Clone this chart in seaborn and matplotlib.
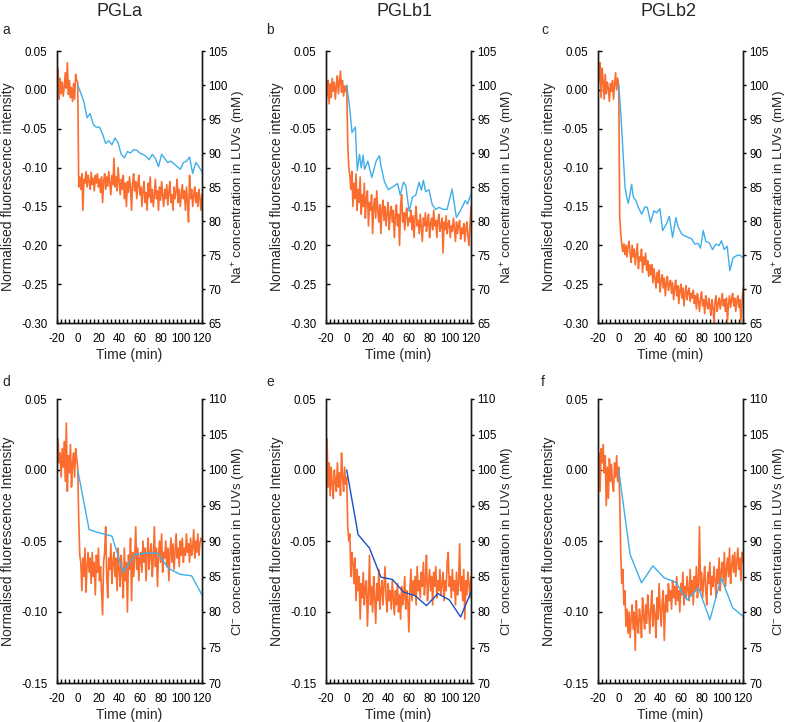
import numpy as np
import matplotlib
matplotlib.use("Agg")
import matplotlib.pyplot as plt
from matplotlib.ticker import MultipleLocator, FormatStrFormatter
import seaborn as sns

sns.set_theme(style="ticks")
plt.rcParams['font.family'] = ['Liberation Sans', 'DejaVu Sans']
plt.rcParams['axes.unicode_minus'] = False
plt.rcParams['mathtext.fontset'] = 'custom'
plt.rcParams['mathtext.rm'] = 'Liberation Sans'

# fluorescence traces, one sample per minute from -20 to 120 min
time_min = np.arange(-20, 121)

fl_pgla_na = [
    0.000, 0.028, -0.012, 0.015, -0.005, 0.010, -0.008, 0.004, 0.022, 0.002,
    0.035, -0.006, 0.012, -0.010, 0.003, -0.015, 0.008, -0.012, 0.020, 0.012,
    0.010,
    -0.125, -0.112, -0.128, -0.108, -0.155, -0.115, -0.120, -0.105, -0.125, -0.110,
    -0.118, -0.128, -0.106, -0.122, -0.114, -0.130, -0.110, -0.120, -0.108, -0.125,
    -0.115, -0.132, -0.112, -0.145, -0.118, -0.108, -0.128, -0.112, -0.124, -0.105,
    -0.120, -0.135, -0.110, -0.122, -0.088, -0.125, -0.112, -0.130, -0.100, -0.118,
    -0.135, -0.115, -0.128, -0.110, -0.140,
    -0.120, -0.150, -0.118, -0.132, -0.112, -0.125, -0.155, -0.120, -0.108, -0.130,
    -0.118, -0.140, -0.122, -0.110, -0.135,
    -0.125, -0.150, -0.130, -0.118, -0.145, -0.132, -0.155, -0.120, -0.138, -0.112,
    -0.145, -0.128, -0.150, -0.135, -0.115, -0.140, -0.130, -0.155, -0.125, -0.142,
    -0.118, -0.135, -0.150, -0.128, -0.140, -0.122, -0.148, -0.132, -0.118, -0.145,
    -0.135, -0.155, -0.125, -0.140, -0.130, -0.115, -0.145, -0.128, -0.150, -0.135,
    -0.122, -0.140, -0.130, -0.155, -0.125, -0.145, -0.170, -0.110, -0.140, -0.128,
    -0.150, -0.135, -0.125, -0.145, -0.132, -0.150, -0.128, -0.140, -0.155, -0.135,
]

fl_pglb1_na = [
    -0.015, -0.005, 0.012, -0.018, 0.008, -0.010, 0.015, -0.002, 0.010, -0.012,
    0.005, 0.018, -0.005, 0.010, 0.024, -0.003, 0.012, -0.008, 0.005, -0.002,
    0.005,
    -0.070, -0.100, -0.110, -0.128, -0.105, -0.150, -0.120, -0.140, -0.108, -0.155,
    -0.128, -0.145, -0.112, -0.160, -0.135, -0.150, -0.120, -0.165, -0.140, -0.130,
    -0.175, -0.145, -0.155, -0.135, -0.185, -0.150, -0.140, -0.165, -0.130, -0.155,
    -0.170, -0.148, -0.185, -0.155, -0.142, -0.168, -0.150, -0.175, -0.158, -0.145,
    -0.180, -0.160, -0.150, -0.170, -0.155, -0.190, -0.162, -0.148, -0.175, -0.160,
    -0.200, -0.150, -0.135, -0.170, -0.158, -0.180, -0.160, -0.152, -0.175, -0.165,
    -0.170, -0.155, -0.180, -0.162, -0.190, -0.165, -0.150, -0.175, -0.168, -0.185,
    -0.160, -0.178, -0.195, -0.165, -0.175, -0.158, -0.182, -0.170, -0.160, -0.190,
    -0.172, -0.165, -0.180, -0.155, -0.175, -0.168, -0.190, -0.170, -0.160, -0.182,
    -0.175, -0.165, -0.210, -0.170, -0.180, -0.162, -0.185, -0.172, -0.168, -0.190,
    -0.175, -0.182, -0.165, -0.178, -0.195, -0.170, -0.185, -0.175, -0.168, -0.192,
    -0.178, -0.185, -0.172, -0.195, -0.180, -0.170, -0.188, -0.200, -0.175, -0.150,
]

fl_pglb2_na = [
    0.005, 0.015, 0.035, -0.010, 0.028, 0.010, -0.012, 0.020, -0.005, 0.010,
    0.002, -0.015, 0.008, -0.002, 0.012, -0.012, 0.006, 0.022, 0.000, 0.015,
    0.005,
    -0.165, -0.185, -0.200, -0.208, -0.198, -0.212, -0.200, -0.215, -0.202, -0.195,
    -0.210, -0.222, -0.200, -0.215, -0.205, -0.225, -0.212, -0.198, -0.230, -0.215,
    -0.220, -0.205, -0.235, -0.215, -0.225, -0.210, -0.232, -0.220, -0.240, -0.225,
    -0.238, -0.225, -0.248, -0.230, -0.242, -0.255, -0.235, -0.248, -0.232, -0.260,
    -0.245, -0.238, -0.255, -0.242, -0.265, -0.248, -0.240, -0.258, -0.250, -0.245,
    -0.262, -0.248, -0.270, -0.255, -0.245, -0.265, -0.252, -0.275, -0.258, -0.250,
    -0.268, -0.255, -0.278, -0.262, -0.252, -0.270, -0.260, -0.255, -0.272, -0.262,
    -0.268, -0.258, -0.275, -0.265, -0.282, -0.262, -0.272, -0.285, -0.268, -0.260,
    -0.278, -0.270, -0.288, -0.265, -0.275, -0.282, -0.268, -0.278, -0.290, -0.270,
    -0.280, -0.300, -0.272, -0.265, -0.285, -0.275, -0.268, -0.282, -0.272, -0.262,
    -0.278, -0.270, -0.285, -0.268, -0.298, -0.275, -0.265, -0.280, -0.270, -0.262,
    -0.278, -0.268, -0.285, -0.272, -0.265, -0.280, -0.270, -0.298, -0.275, -0.255,
]

fl_pgla_cl = [
    0.000, 0.022, 0.005, 0.012, -0.005, 0.015, 0.002, 0.020, -0.008, 0.033,
    -0.015, 0.010, -0.002, 0.018, -0.012, 0.005, 0.012, -0.005, 0.015, 0.008,
    0.002,
    -0.035, -0.060, -0.065, -0.085, -0.062, -0.075, -0.055, -0.086, -0.068, -0.058,
    -0.072, -0.062, -0.080, -0.058, -0.075, -0.065, -0.088, -0.060, -0.072, -0.055,
    -0.078, -0.068, -0.085, -0.102, -0.065, -0.058, -0.040, -0.075, -0.090, -0.062,
    -0.070, -0.052, -0.080, -0.065, -0.058, -0.075, -0.062, -0.085, -0.055, -0.070,
    -0.082, -0.060, -0.072, -0.090, -0.055, -0.078, -0.065, -0.100, -0.060, -0.070,
    -0.048, -0.092, -0.058, -0.075, -0.062, -0.040, -0.070, -0.055, -0.078, -0.062,
    -0.058, -0.072, -0.050, -0.065, -0.055, -0.078, -0.060, -0.048, -0.070, -0.058,
    -0.052, -0.075, -0.062, -0.040, -0.068, -0.055, -0.082, -0.060, -0.050, -0.065,
    -0.045, -0.072, -0.058, -0.062, -0.050, -0.068, -0.055, -0.078, -0.060, -0.048,
    -0.065, -0.052, -0.070, -0.058, -0.045, -0.062, -0.055, -0.068, -0.050, -0.060,
    -0.048, -0.065, -0.055, -0.060, -0.045, -0.058, -0.052, -0.065, -0.048, -0.060,
    -0.055, -0.042, -0.062, -0.050, -0.058, -0.045, -0.060, -0.052, -0.048, -0.050,
]

fl_pglb1_cl = [
    -0.028, 0.022, -0.012, 0.005, -0.018, 0.002, -0.010, -0.020, 0.000, -0.008,
    -0.015, 0.005, -0.012, -0.002, -0.018, 0.012, -0.005, -0.015, 0.002, -0.010,
    -0.005,
    -0.040, -0.050, -0.045, -0.075, -0.058, -0.065, -0.080, -0.062, -0.092, -0.070,
    -0.085, -0.075, -0.105, -0.080, -0.090, -0.072, -0.095, -0.082, -0.078, -0.110,
    -0.088, -0.060, -0.095, -0.082, -0.100, -0.075, -0.090, -0.108, -0.080, -0.092,
    -0.070, -0.098, -0.085, -0.078, -0.095, -0.082, -0.068, -0.090, -0.100, -0.080,
    -0.092, -0.085, -0.098, -0.078, -0.090, -0.102, -0.085, -0.095, -0.080, -0.100,
    -0.088, -0.105, -0.082, -0.095, -0.090, -0.075, -0.098, -0.085, -0.092, -0.114,
    -0.085, -0.070, -0.092, -0.078, -0.088, -0.075, -0.095, -0.068, -0.085, -0.078,
    -0.090, -0.072, -0.082, -0.065, -0.088, -0.078, -0.060, -0.092, -0.080, -0.070,
    -0.085, -0.075, -0.095, -0.072, -0.082, -0.068, -0.090, -0.078, -0.085, -0.070,
    -0.088, -0.080, -0.072, -0.092, -0.078, -0.085, -0.065, -0.058, -0.082, -0.075,
    -0.090, -0.070, -0.085, -0.078, -0.095, -0.072, -0.088, -0.080, -0.052, -0.085,
    -0.075, -0.092, -0.070, -0.105, -0.078, -0.088, -0.072, -0.080, -0.090, -0.075,
]

fl_pglb2_cl = [
    -0.005, 0.012, -0.015, 0.015, 0.005, 0.018, -0.002, 0.010, -0.025, 0.002,
    -0.020, 0.008, -0.008, 0.004, -0.010, -0.015, 0.005, -0.005, 0.010, -0.008,
    0.002,
    -0.020, -0.060, -0.080, -0.070, -0.095, -0.085, -0.110, -0.098, -0.115, -0.100,
    -0.118, -0.105, -0.095, -0.112, -0.100, -0.127, -0.092, -0.108, -0.115, -0.098,
    -0.105, -0.118, -0.090, -0.102, -0.112, -0.095, -0.108, -0.088, -0.100, -0.115,
    -0.098, -0.085, -0.110, -0.095, -0.102, -0.118, -0.090, -0.105, -0.080, -0.098,
    -0.110, -0.092, -0.085, -0.120, -0.095, -0.088, -0.100, -0.080, -0.092, -0.085,
    -0.098, -0.078, -0.090, -0.082, -0.095, -0.075, -0.092, -0.085, -0.100, -0.080,
    -0.088, -0.072, -0.095, -0.082, -0.090, -0.075, -0.085, -0.092, -0.070, -0.088,
    -0.078, -0.095, -0.075, -0.085, -0.068, -0.090, -0.080, -0.040, -0.085, -0.072,
    -0.090, -0.078, -0.068, -0.085, -0.095, -0.072, -0.080, -0.065, -0.088, -0.075,
    -0.082, -0.068, -0.078, -0.090, -0.070, -0.080, -0.062, -0.085, -0.072, -0.065,
    -0.078, -0.058, -0.082, -0.070, -0.062, -0.075, -0.055, -0.080, -0.068, -0.060,
    -0.072, -0.058, -0.075, -0.065, -0.055, -0.070, -0.062, -0.078, -0.058, -0.065,
]

# Na+ concentration in LUVs (mM)
na_time_a = list(range(0, 121, 3))
na_pgla = [100, 98.8, 97.5, 95.2, 95.8, 94.2, 93.8, 93.8, 92.8, 91.4,
           91.8, 91.2, 92.2, 91.5, 89.8, 89.3, 90.2, 90.0, 90.5, 90.4,
           90.0, 89.8, 89.5, 89.0, 89.8, 89.2, 88.0, 89.8, 89.2, 88.6,
           88.8, 88.4, 88.0, 87.6, 88.6, 88.8, 89.4, 87.0, 88.6, 88.0, 87.2]

na_time_b = [0, 2.9, 5.1, 7, 8.3, 10.2, 12.4, 14, 15.9, 17.2, 20.4, 24.2, 28.4,
             31.6, 33.2, 36.4, 40.2, 44.3, 49.1, 51.7, 54.8, 57.1, 60.3, 63.5,
             66.7, 69.9, 72.1, 74, 76.2, 79.4, 82.6, 85.8, 89, 93.8, 96.9,
             101.7, 105.9, 109.7, 114.5, 116.7, 120]
na_pglb1 = [100, 96.6, 93, 93.5, 93.8, 87.4, 89.8, 87.8, 89.7, 87.6, 88.8, 86.4,
            88.8, 89.6, 88, 85.8, 84.6, 85, 85.5, 83.8, 85.7, 85.2, 81.4, 83.5,
            83.8, 85.7, 84.5, 86, 84.3, 84.6, 82.4, 81.7, 82, 81.7, 81.7,
            84.7, 80.5, 81.5, 83, 82.5, 84]

na_time_c = [0, 1.9, 3.9, 6.1, 7.7, 9.3, 10.9, 12.5, 14.1, 16.7, 18.9, 22.2,
             25.4, 27.6, 30.8, 34, 36.6, 39.8, 42.4, 46.2, 48.8, 52, 55.2, 57.5,
             60.7, 63.9, 67.1, 70.3, 73.5, 76.7, 79, 81.6, 84.1, 87.3, 90.6,
             93.8, 97, 99.2, 101.8, 104.7, 107.3, 110.5, 113.7, 116.9, 120]
na_pglb2 = [100, 96.1, 90.8, 85, 83.5, 82.6, 84, 85.4, 83.5, 83, 82, 81,
            82.1, 82, 79.8, 81.5, 81.2, 81.8, 78.6, 79.6, 80.7, 77.6, 80.5, 79.1,
            78.1, 77.8, 77.6, 77.4, 76.6, 76.7, 76, 78.6, 77, 76.8, 75.8,
            76.6, 76.4, 77.1, 75.8, 76.3, 72.7, 74.6, 74.9, 75, 74.6]

# Cl- concentration in LUVs (mM)
cl_time = [0, 11, 22, 33, 44, 55, 66, 77, 88, 99, 110, 120]
cl_pgla = [100, 91.6, 91.1, 90.7, 85.6, 88.1, 88.3, 88.3, 86.1, 85.3, 85.1, 82.4]
cl_pglb1 = [100, 90.9, 89.0, 84.9, 84.6, 82.8, 82.3, 80.9, 82.6, 81.7, 79.3, 82.8]
cl_pglb2 = [100, 88.1, 84.1, 86.5, 84.8, 84.2, 81.7, 83.4, 78.9, 84.8, 80.6, 79.4]

titles = ["PGLa", "PGLb1", "PGLb2"]
letters = ["a", "b", "c", "d", "e", "f"]
na_fl_ticks = [-0.30, -0.25, -0.20, -0.15, -0.10, -0.05, 0.0, 0.05]
cl_fl_ticks = [-0.15, -0.10, -0.05, 0.0, 0.05]

ORANGE = "#FA6D2E"
LIGHT_BLUE = "#3FAEEA"
DARK_BLUE = "#1A4FC4"

fig = plt.figure(figsize=(7.93, 7.22), dpi=100)
W, H = 793, 722
col_left = [57, 326, 598]
ax_w = 145


def make_panel(left_px, top_px, bottom_px, fl, ctime, conc, conc_color,
               yticks_l, ylim_r, ylabel_l, ylabel_r):
    ax = fig.add_axes([left_px / W, 1 - bottom_px / H, ax_w / W, (bottom_px - top_px) / H])
    sns.lineplot(x=time_min, y=fl, ax=ax, color=ORANGE, linewidth=1.2)
    ax.set_xlim(-20, 120)
    ax.set_ylim(yticks_l[0], yticks_l[-1])
    ax.set_xticks(range(-20, 121, 20))
    ax.xaxis.set_minor_locator(MultipleLocator(4))
    ax.set_yticks(yticks_l)
    ax.yaxis.set_major_formatter(FormatStrFormatter('%.2f'))
    ax.tick_params(axis='y', direction='in', length=3, width=1, labelsize=8.3, pad=7, colors='black')
    ax.tick_params(axis='x', which='both', direction='in', length=3, width=1, labelsize=8.3, pad=7, colors='black')
    ax.set_xlabel("Time (min)", fontsize=10, labelpad=2)
    ax.set_ylabel(ylabel_l, fontsize=10, labelpad=4)
    ax.spines['top'].set_visible(False)

    ax2 = ax.twinx()
    sns.lineplot(x=ctime, y=conc, ax=ax2, color=conc_color, linewidth=1.0)
    ax2.set_ylim(*ylim_r)
    ax2.set_yticks(range(ylim_r[0], ylim_r[1] + 1, 5))
    ax2.tick_params(axis='y', direction='out', length=2.5, width=1, labelsize=8.3, pad=2, colors='black')
    ax2.set_ylabel(ylabel_r, fontsize=9.6, labelpad=2)
    ax2.spines['top'].set_visible(False)
    for a in (ax, ax2):
        for s in a.spines.values():
            s.set_linewidth(1.0)
            s.set_color('#1a1a1a')
    return ax


fl_top = [fl_pgla_na, fl_pglb1_na, fl_pglb2_na]
na_times = [na_time_a, na_time_b, na_time_c]
na_vals = [na_pgla, na_pglb1, na_pglb2]
fl_bottom = [fl_pgla_cl, fl_pglb1_cl, fl_pglb2_cl]
cl_vals = [cl_pgla, cl_pglb1, cl_pglb2]
cl_colors = [LIGHT_BLUE, DARK_BLUE, LIGHT_BLUE]

for i in range(3):
    make_panel(col_left[i], 51, 323, fl_top[i], na_times[i], na_vals[i], LIGHT_BLUE,
               na_fl_ticks, (65, 105),
               "Normalised fluorescence intensity",
               "Na$^{+}$ concentration in LUVs (mM)")
    make_panel(col_left[i], 399, 683, fl_bottom[i], cl_time, cl_vals[i], cl_colors[i],
               cl_fl_ticks, (70, 110),
               "Normalised fluorescence Intensity",
               "Cl$^{-}$ concentration in LUVs (mM)")

title_x = [120, 405, 668]
for i, t in enumerate(titles):
    fig.text(title_x[i] / W, 1 - 11 / H, t, fontsize=13, ha='center', va='center')

letter_x = [2, 266, 541]
for i in range(3):
    fig.text(letter_x[i] / W, 1 - 30 / H, letters[i], fontsize=10, ha='left', va='center')
    fig.text(letter_x[i] / W, 1 - 382 / H, letters[i + 3], fontsize=10, ha='left', va='center')

fig.savefig("out.png", dpi=100)
